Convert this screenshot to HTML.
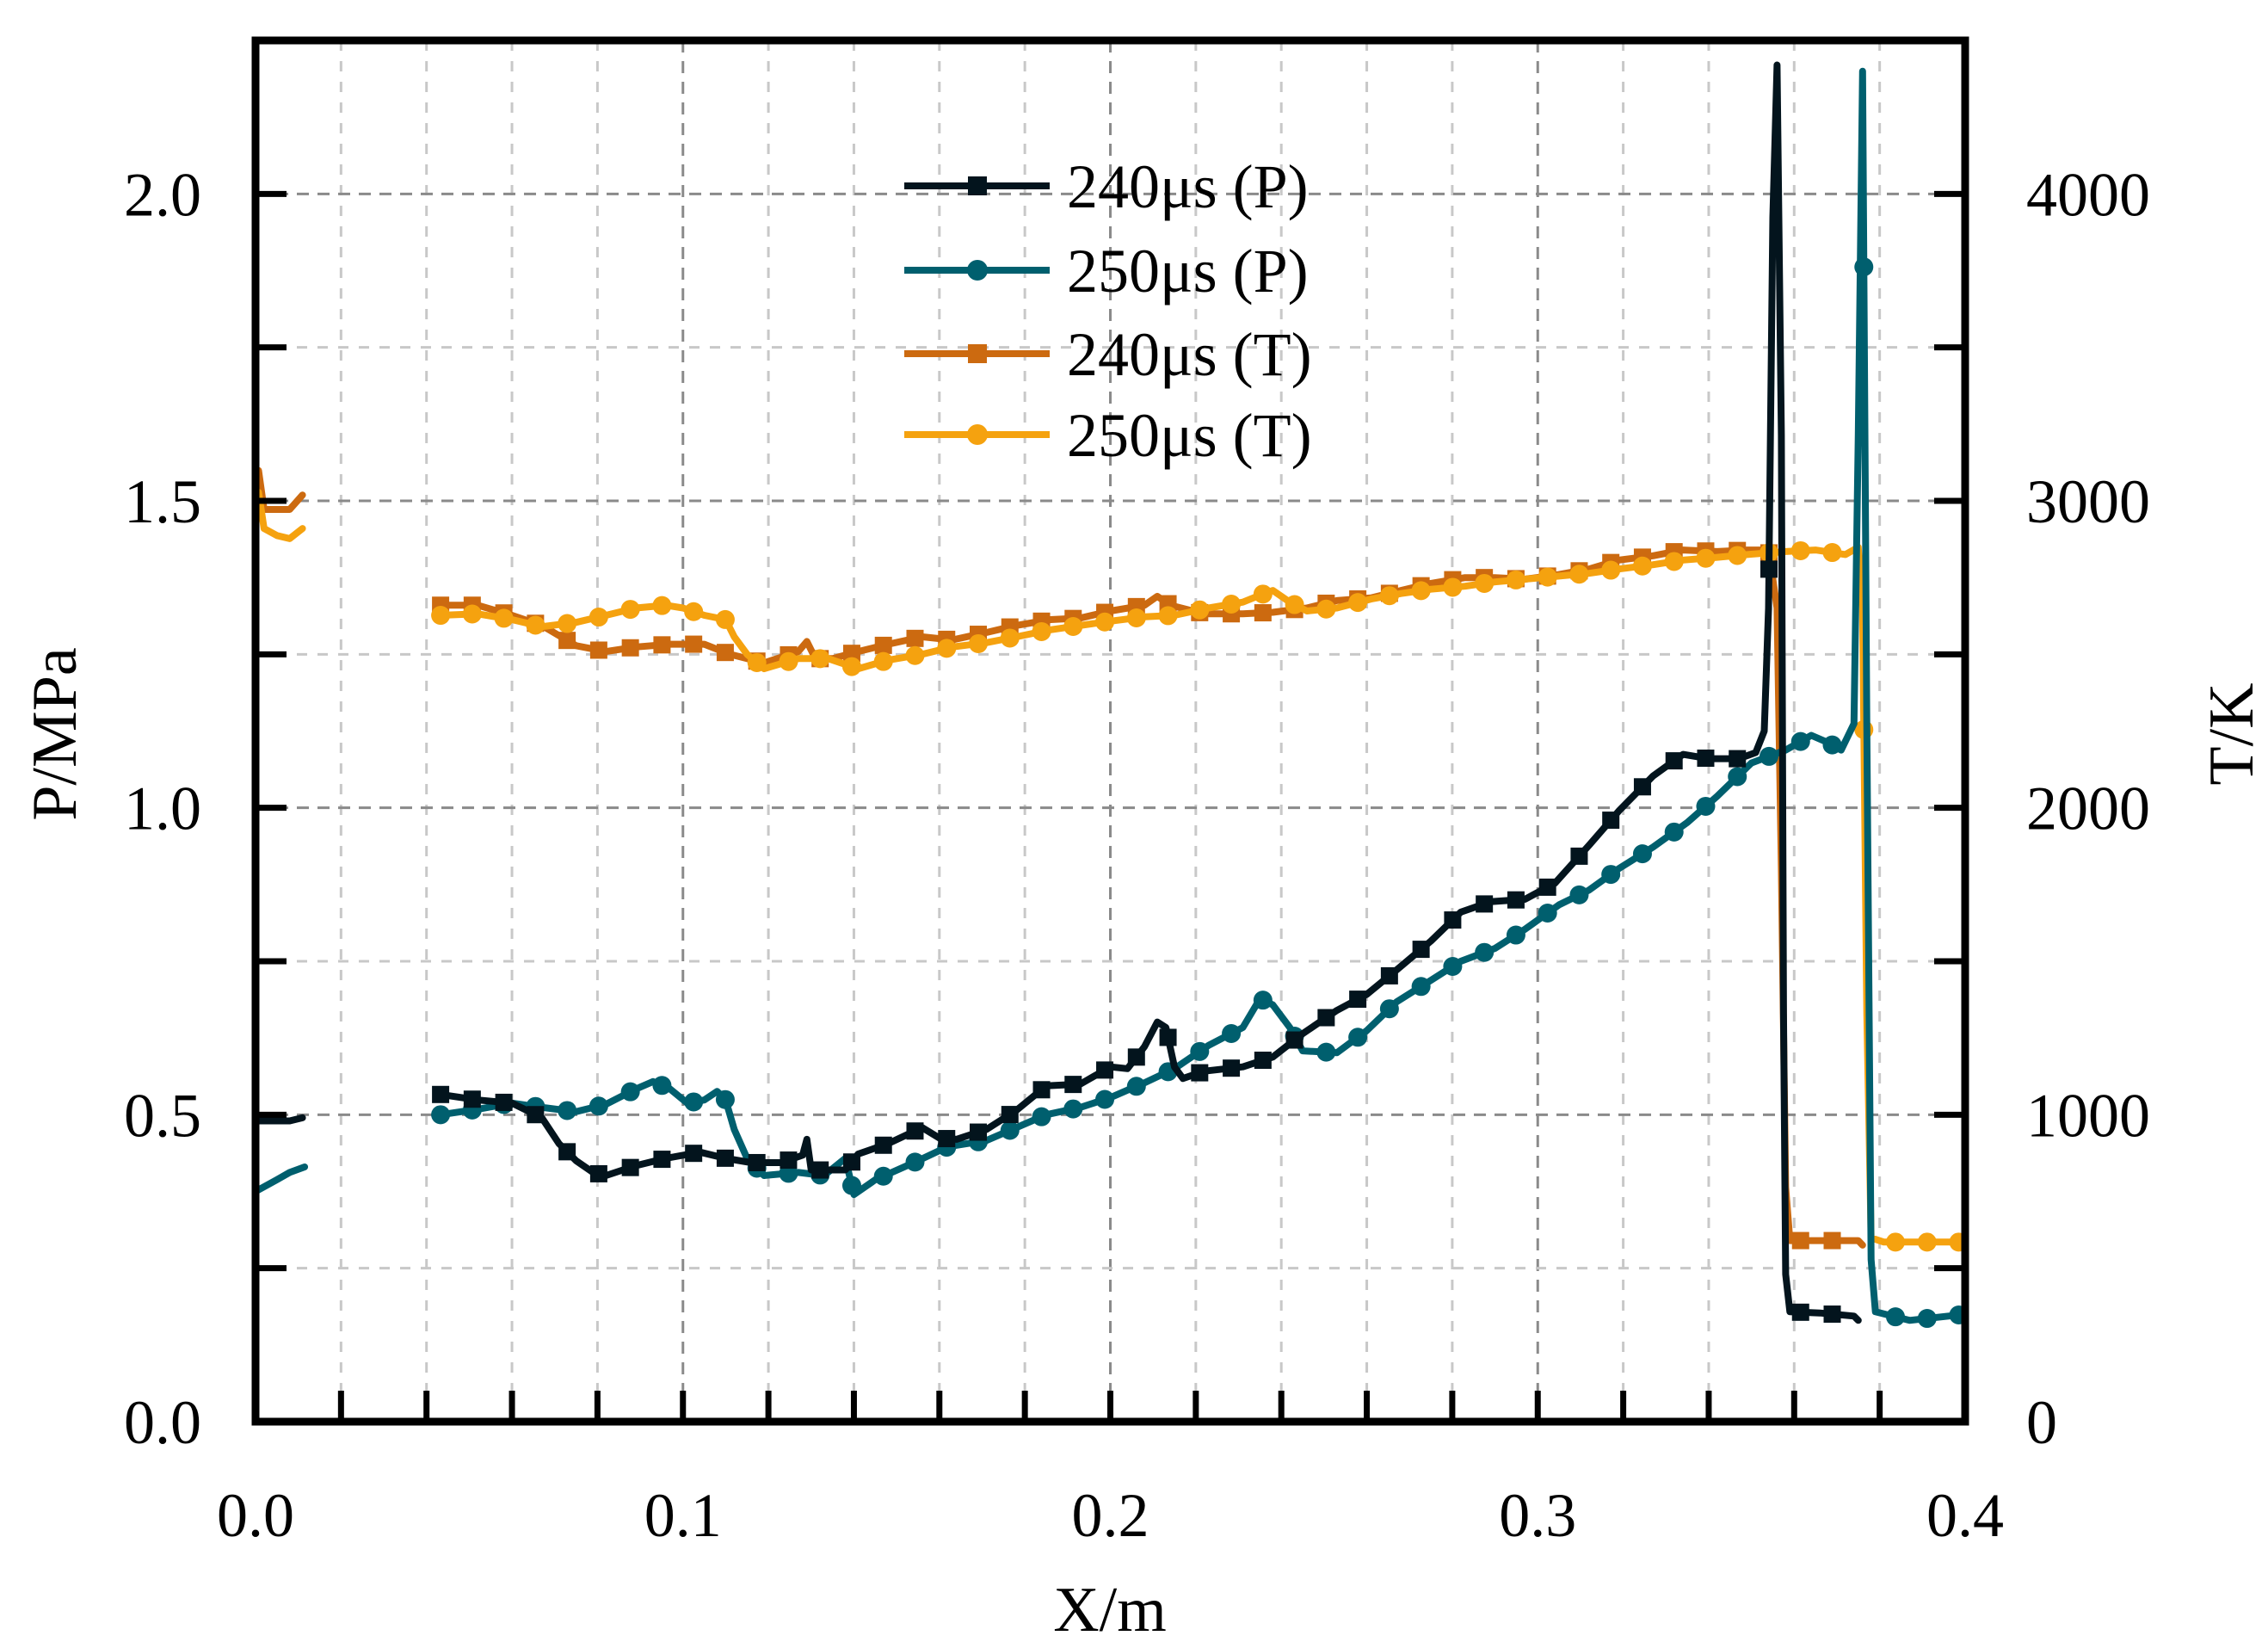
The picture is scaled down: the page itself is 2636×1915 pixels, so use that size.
<!DOCTYPE html>
<html><head><meta charset="utf-8"><style>
html,body{margin:0;padding:0;background:#fff}
svg{display:block}
text{font-family:"Liberation Serif",serif;fill:#000}
</style></head><body>
<svg id="chart" width="2636" height="1915" viewBox="0 0 2636 1915" xmlns="http://www.w3.org/2000/svg">
<g id="grid"></g>
<g id="series"></g>
<g id="axes"></g>
<g id="legend"></g>
</svg>
<script>
// ---- data ----
const xTicks = [0.0, 0.1, 0.2, 0.3, 0.4];
const xTickLabels = ["0.0", "0.1", "0.2", "0.3", "0.4"];
const pTicks = [0.0, 0.5, 1.0, 1.5, 2.0];
const pTickLabels = ["0.0", "0.5", "1.0", "1.5", "2.0"];
const tTicks = [0, 1000, 2000, 3000, 4000];
const tTickLabels = ["0", "1000", "2000", "3000", "4000"];
const seriesNames = ["240μs (P)", "250μs (P)", "240μs (T)", "250μs (T)"];

const p240a_x = [0, 0.004, 0.008, 0.011];
const p240a_y = [0.49, 0.49, 0.49, 0.495];
const p240_x = [0.0433,0.052,0.06,0.067,0.071,0.075,0.079,0.082,0.089,0.096,0.104,0.11,0.116,0.123,0.128,0.129,0.130,0.133,0.138,0.141,0.148,0.156,0.16,0.164,0.171,0.178,0.185,0.193,0.2,0.204,0.208,0.211,0.213,0.215,0.217,0.222,0.231,0.238,0.245,0.253,0.26,0.267,0.275,0.282,0.289,0.297,0.304,0.312,0.319,0.327,0.334,0.34,0.347,0.351,0.353,0.354,0.355,0.356,0.357,0.3575,0.358,0.359,0.366,0.374,0.375];
const p240_y = [0.533,0.524,0.519,0.495,0.453,0.425,0.406,0.401,0.417,0.429,0.439,0.429,0.422,0.422,0.434,0.46,0.41,0.41,0.41,0.436,0.453,0.479,0.462,0.46,0.476,0.507,0.547,0.55,0.578,0.575,0.611,0.651,0.642,0.578,0.559,0.571,0.578,0.594,0.632,0.67,0.696,0.736,0.783,0.83,0.847,0.851,0.877,0.939,0.995,1.052,1.087,1.08,1.08,1.09,1.125,1.325,1.962,2.21,1.608,0.665,0.24,0.179,0.177,0.172,0.165];

const p250a_x = [0, 0.005, 0.008, 0.0115];
const p250a_y = [0.375, 0.394, 0.406, 0.415];
const p250_x = [0.0433,0.052,0.06,0.067,0.075,0.082,0.089,0.093,0.097,0.101,0.105,0.108,0.11,0.112,0.115,0.119,0.127,0.133,0.138,0.14,0.145,0.155,0.162,0.171,0.178,0.185,0.193,0.2,0.208,0.215,0.223,0.231,0.235,0.238,0.242,0.245,0.253,0.26,0.267,0.275,0.282,0.29,0.297,0.305,0.312,0.319,0.327,0.335,0.342,0.35,0.358,0.364,0.368,0.371,0.374,0.375,0.376,0.377,0.378,0.379,0.387,0.4];
const p250_y = [0.5,0.509,0.519,0.512,0.505,0.517,0.542,0.554,0.542,0.519,0.524,0.538,0.524,0.476,0.429,0.401,0.406,0.401,0.429,0.37,0.394,0.425,0.448,0.458,0.479,0.5,0.512,0.528,0.552,0.575,0.613,0.642,0.689,0.679,0.642,0.604,0.601,0.637,0.684,0.719,0.75,0.771,0.802,0.842,0.866,0.901,0.936,0.976,1.019,1.073,1.094,1.118,1.106,1.094,1.137,1.608,2.2,1.137,0.264,0.179,0.165,0.175];

const t240a_x = [0.0007, 0.002, 0.005, 0.008, 0.011];
const t240a_y = [3099, 2972, 2972, 2972, 3019];
const t240_x = [0.0433,0.052,0.06,0.067,0.075,0.082,0.089,0.097,0.105,0.111,0.119,0.127,0.129,0.131,0.135,0.141,0.148,0.156,0.163,0.171,0.178,0.186,0.193,0.2,0.208,0.211,0.214,0.222,0.231,0.238,0.246,0.253,0.261,0.268,0.275,0.283,0.29,0.297,0.305,0.312,0.319,0.327,0.334,0.342,0.349,0.354,0.356,0.357,0.358,0.359,0.367,0.375,0.376];
const t240_y = [2660,2660,2627,2594,2528,2509,2524,2533,2533,2500,2472,2509,2542,2486,2486,2509,2533,2557,2547,2571,2594,2613,2618,2641,2660,2689,2660,2632,2632,2637,2651,2675,2684,2708,2731,2750,2750,2745,2760,2778,2807,2821,2840,2835,2840,2840,2651,1802,764,590,590,590,575];

const t250a_x = [0.0007, 0.002, 0.005, 0.008, 0.011];
const t250a_y = [3028, 2910, 2887, 2877, 2910];
const t250_x = [0.0433,0.052,0.06,0.067,0.075,0.082,0.089,0.096,0.1,0.105,0.11,0.112,0.115,0.119,0.127,0.134,0.141,0.148,0.156,0.163,0.171,0.178,0.186,0.193,0.2,0.208,0.215,0.223,0.231,0.236,0.238,0.242,0.246,0.253,0.261,0.268,0.275,0.283,0.29,0.297,0.305,0.312,0.319,0.327,0.334,0.342,0.349,0.358,0.365,0.372,0.375,0.376,0.377,0.378,0.381,0.391,0.4];
const t250_y = [2627,2632,2613,2590,2604,2627,2651,2660,2651,2627,2613,2557,2500,2453,2486,2486,2453,2481,2500,2524,2538,2557,2580,2594,2608,2622,2627,2651,2670,2698,2708,2670,2641,2651,2680,2698,2712,2722,2736,2745,2755,2764,2778,2792,2807,2816,2825,2835,2840,2825,2849,2651,1330,599,585,585,585];

// ---- layout ----
const L = 297, R = 2284, T = 47, B = 1652;
const NS = "http://www.w3.org/2000/svg";
const sx = v => L + (v - 0) / 0.4 * (R - L);
const sp = v => B - v / 2.25 * (B - T);
const st = v => B - v / 4500 * (B - T);
const colors = ["#03141d", "#005f6e", "#cc6a10", "#f5a20f"];

function mk(tag, parent, attrs) {
  const e = document.createElementNS(NS, tag);
  for (const k in attrs) e.setAttribute(k, attrs[k]);
  parent.appendChild(e);
  return e;
}
const grid = document.getElementById('grid');
const axes = document.getElementById('axes');
const series = document.getElementById('series');
const legend = document.getElementById('legend');

for (let i = 1; i < 20; i++) {
  const v = i * 0.02, major = (i % 5 === 0);
  const g = mk('line', grid, {x1: sx(v), x2: sx(v), y1: T, y2: B, stroke: major ? '#8a8a8a' : '#c8c8c8', 'stroke-width': 3, 'stroke-dasharray': major ? '14,10' : '12,12'});
  
  
}
for (let i = 1; i < 9; i++) {
  const v = i * 0.25, major = (i % 2 === 0);
  const g = mk('line', grid, {x1: L, x2: R, y1: sp(v), y2: sp(v), stroke: major ? '#8a8a8a' : '#c8c8c8', 'stroke-width': 3, 'stroke-dasharray': major ? '14,10' : '12,12'});
  
  
}

function line(xs, ys, yf, color, name) {
  const d = xs.map((x, i) => (i ? 'L' : 'M') + sx(x).toFixed(1) + ',' + yf(ys[i]).toFixed(1)).join(' ');
  const p = mk('path', series, {d: d, fill: 'none', stroke: color, 'stroke-width': 8, 'stroke-linejoin': 'round', 'stroke-linecap': 'round'});
  
  
}
function interp(xs, ys, x) {
  for (let i = 0; i < xs.length - 1; i++) {
    if (x >= xs[i] && x <= xs[i + 1]) {
      const t = (x - xs[i]) / (xs[i + 1] - xs[i] || 1);
      return ys[i] + t * (ys[i + 1] - ys[i]);
    }
  }
  return null;
}
function markers(xs, ys, yf, color, shape, name) {
  const start = xs[0], end = xs[xs.length - 1];
  for (let x = start; x <= end; x += 0.0074) {
    const v = interp(xs, ys, x);
    if (v === null) continue;
    const cx = sx(x), cy = yf(v);
    let m;
    if (shape === 'square') m = mk('rect', series, {x: cx - 10, y: cy - 10, width: 20, height: 20, fill: color});
    else m = mk('circle', series, {cx: cx, cy: cy, r: 11, fill: color});
    
    
  }
}
line(t240a_x, t240a_y, st, colors[2], 't240-line-left');
line(t240_x, t240_y, st, colors[2], 't240-line');
markers(t240_x, t240_y, st, colors[2], 'square', 't240-marker');
line(t250a_x, t250a_y, st, colors[3], 't250-line-left');
line(t250_x, t250_y, st, colors[3], 't250-line');
markers(t250_x, t250_y, st, colors[3], 'circle', 't250-marker');
line(p250a_x, p250a_y, sp, colors[1], 'p250-line-left');
line(p250_x, p250_y, sp, colors[1], 'p250-line');
markers(p250_x, p250_y, sp, colors[1], 'circle', 'p250-marker');
line(p240a_x, p240a_y, sp, colors[0], 'p240-line-left');
line(p240_x, p240_y, sp, colors[0], 'p240-line');
markers(p240_x, p240_y, sp, colors[0], 'square', 'p240-marker');

const fr = mk('rect', axes, {x: L, y: T, width: R - L, height: B - T, fill: 'none', stroke: '#000', 'stroke-width': 9});



for (let i = 1; i < 20; i++) {
  const t = mk('line', axes, {x1: sx(i * 0.02), x2: sx(i * 0.02), y1: B, y2: B - 36, stroke: '#000', 'stroke-width': 7});
  
  
}
for (let i = 1; i < 9; i++) {
  const t = mk('line', axes, {x1: L, x2: L + 36, y1: sp(i * 0.25), y2: sp(i * 0.25), stroke: '#000', 'stroke-width': 7});
  
  
}
for (let i = 1; i < 9; i++) {
  const t = mk('line', axes, {x1: R, x2: R - 36, y1: st(i * 500), y2: st(i * 500), stroke: '#000', 'stroke-width': 7});
  
  
}

xTicks.forEach((v, i) => {
  const t = mk('text', axes, {x: sx(v), y: 1785, 'font-size': 72, 'text-anchor': 'middle'});
  t.textContent = xTickLabels[i];
  
  
});
pTicks.forEach((v, i) => {
  const t = mk('text', axes, {x: 234, y: sp(v) + 25, 'font-size': 72, 'text-anchor': 'end'});
  t.textContent = pTickLabels[i];
  
  
});
tTicks.forEach((v, i) => {
  const t = mk('text', axes, {x: 2355, y: st(v) + 25, 'font-size': 72, 'text-anchor': 'start'});
  t.textContent = tTickLabels[i];
  
  
});

let at = mk('text', axes, {x: 1290, y: 1895, 'font-size': 74, 'text-anchor': 'middle'});
at.textContent = 'X/m';


at = mk('text', axes, {x: 0, y: 0, 'font-size': 74, 'text-anchor': 'middle', transform: 'translate(88,853) rotate(-90)'});
at.textContent = 'P/MPa';


at = mk('text', axes, {x: 0, y: 0, 'font-size': 74, 'text-anchor': 'middle', transform: 'translate(2618,853) rotate(-90)'});
at.textContent = 'T/K';



const rowsY = [216, 314, 411, 505];
const shapes = ['square', 'circle', 'square', 'circle'];
seriesNames.forEach((n, i) => {
  const g = mk('g', legend, {});
  
  
  mk('line', g, {x1: 1051, x2: 1220, y1: rowsY[i], y2: rowsY[i], stroke: colors[i], 'stroke-width': 8});
  if (shapes[i] === 'square') mk('rect', g, {x: 1125, y: rowsY[i] - 11, width: 22, height: 22, fill: colors[i]});
  else mk('circle', g, {cx: 1136, cy: rowsY[i], r: 12, fill: colors[i]});
  const t = mk('text', g, {x: 1240, y: rowsY[i] + 25, 'font-size': 72});
  t.textContent = n;
});
</script>
</body></html>
